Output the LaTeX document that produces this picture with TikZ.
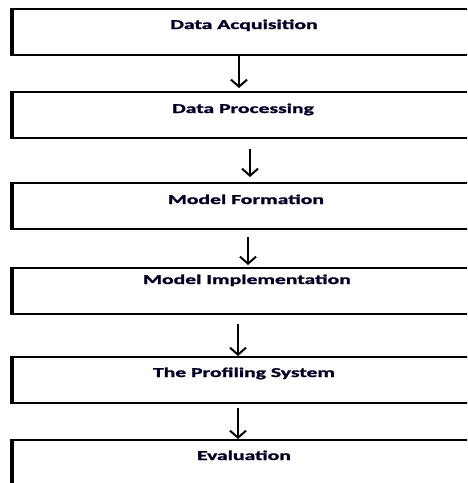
\documentclass[tikz,border=0pt]{standalone}
\usepackage{fontspec}
\setmainfont{Carlito}
\newfontfamily\heavyfont{Carlito Bold}[FakeBold=1.2]
\usetikzlibrary{arrows.meta}
\tikzset{
  box/.style={draw, line width=2.2pt, minimum width=500pt, minimum height=46pt, anchor=north west, inner sep=0pt},
  lbl/.style={anchor=base, inner sep=0pt, font=\fontsize{13.5pt}{15pt}\heavyfont, text=black!85!blue},
  flow/.style={line width=2pt, -{Straight Barb[length=7pt,width=16pt,line width=2pt]}},
  leftedge/.style={line width=3.2pt}
}
\newcommand{\wide}[1]{\scalebox{1.6}[1]{#1}}
\begin{document}
\begin{tikzpicture}[x=1pt,y=-1pt]
\useasboundingbox (0,0) rectangle (467,483);
\clip (0,0) rectangle (467,483);
\node[box] (b1) at (12,8) {};
\node[box] (b2) at (12,91) {};
\node[box] (b3) at (12,182) {};
\node[box] (b4) at (12,267) {};
\node[box] (b5) at (12,356) {};
\node[box] (b6) at (12,439) {};
\foreach \b in {b1,b2,b3,b4,b5,b6}
  \draw[leftedge] (\b.north west) -- (\b.south west);
\node[lbl] (t1) at (244,29) {\wide{Data Acquisition}};
\node[lbl] (t2) at (243,113) {\wide{Data Processing}};
\node[lbl] (t3) at (246,204) {\wide{Model Formation}};
\node[lbl] (t4) at (247,284) {\wide{Model Implementation}};
\node[lbl] (t5) at (244,377) {\wide{The Profiling System}};
\node[lbl] (t6) at (244,460) {\wide{Evaluation}};
\draw[flow, shorten >=3pt] (239,0 |- b1.south) -- (239,0 |- b2.north);
\draw[flow, shorten <=10pt, shorten >=5pt] (250,0 |- b2.south) -- (250,0 |- b3.north);
\draw[flow, shorten <=7pt, shorten >=2pt] (248,0 |- b3.south) -- (248,0 |- b4.north);
\draw[flow, shorten <=9pt] (238,0 |- b4.south) -- (238,0 |- b5.north);
\draw[flow, shorten <=4pt] (238,0 |- b5.south) -- (238,0 |- b6.north);
\end{tikzpicture}
\end{document}
